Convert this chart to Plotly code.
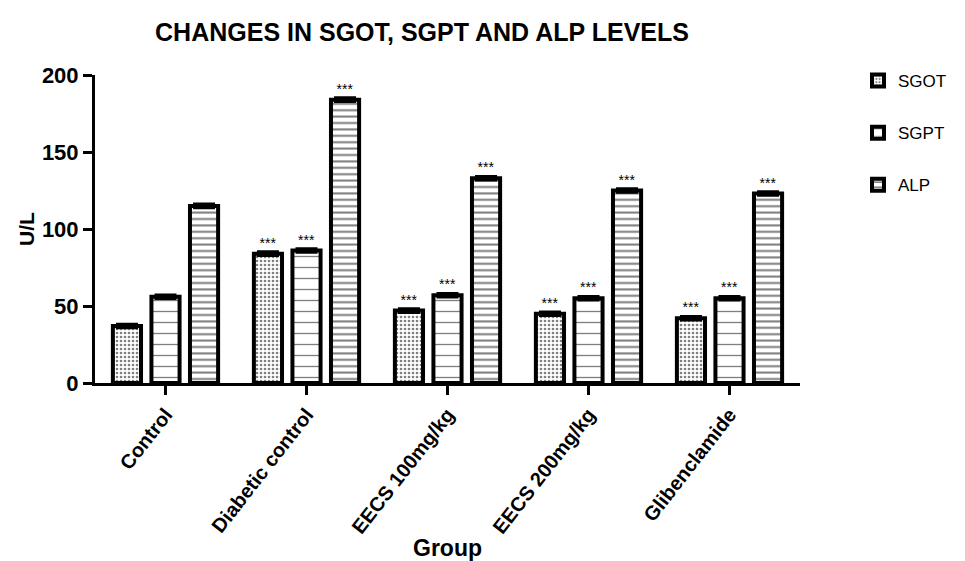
import plotly.graph_objects as go

groups = ["Control", "Diabetic control", "EECS 100mg/kg", "EECS 200mg/kg", "Glibenclamide"]
sgot = [37, 84, 47, 45, 42]
sgpt = [56, 86, 57, 55, 55]
alp = [115, 184, 133, 125, 123]
sgot_err = [1, 1, 1, 1, 1]
sgpt_err = [1, 1, 1, 1, 1]
alp_err = [1, 1, 1, 1, 1]
sgot_sig = ["", "***", "***", "***", "***"]
sgpt_sig = ["", "***", "***", "***", "***"]
alp_sig = ["", "***", "***", "***", "***"]
y_ticks = [0, 50, 100, 150, 200]

FONT = "Liberation Sans, Arial, sans-serif"

series = [
    ("SGOT", sgot, sgot_err, sgot_sig, dict(shape=".", size=4, solidity=0.35)),
    ("SGPT", sgpt, sgpt_err, sgpt_sig, dict(shape="-", size=11, solidity=0.12)),
    ("ALP", alp, alp_err, alp_sig, dict(shape="-", size=6.4, solidity=0.32)),
]

fig = go.Figure()
for name, vals, err, sig, pat in series:
    fig.add_trace(go.Bar(
        name=name, x=groups, y=vals,
        legendgroup=name,
        marker=dict(color="white", line=dict(color="black", width=4),
                    pattern=dict(fgcolor="black", bgcolor="white", **pat)),
        error_y=dict(type="data", array=err, visible=True, color="black",
                     thickness=3.5, width=11),
        text=sig,
        textposition="outside",
        textfont=dict(family=FONT, size=14, color="black"),
        cliponaxis=False,
    ))

fig.update_layout(
    width=965, height=561,
    paper_bgcolor="white", plot_bgcolor="white",
    margin=dict(l=95, r=165, t=75, b=178, autoexpand=False),
    barmode="group", bargap=0.18, bargroupgap=0.27,
    title=dict(text="CHANGES IN SGOT, SGPT AND ALP LEVELS",
               font=dict(family=FONT, size=25, color="black", weight="bold"),
               x=422/965, xanchor="center", y=1 - 32/561, yanchor="middle"),
    font=dict(family=FONT, color="black"),
    legend=dict(x=858/965, xref="container", y=1 - 63/561, yref="container",
                xanchor="left", yanchor="top",
                font=dict(family=FONT, size=17, color="black"),
                tracegroupgap=27, bgcolor="rgba(0,0,0,0)"),
    showlegend=True,
)

fig.update_xaxes(
    range=[-0.5, 4.5], showline=True, linecolor="black", linewidth=3,
    ticks="outside", ticklen=9, tickwidth=3, tickcolor="black",
    tickangle=-52, tickfont=dict(family=FONT, size=20, color="black", weight="bold"),
    title=dict(text="Group", font=dict(family=FONT, size=23, color="black", weight="bold"),
               standoff=3),
    showgrid=False, zeroline=False, automargin=False,
)
fig.update_yaxes(
    range=[0, 200], tickvals=y_ticks, showline=True, linecolor="black", linewidth=3,
    ticks="outside", ticklen=9, tickwidth=3, tickcolor="black",
    tickfont=dict(family=FONT, size=22, color="black", weight="bold"),
    title=dict(text="U/L", font=dict(family=FONT, size=21, color="black", weight="bold"),
               standoff=2),
    showgrid=False, zeroline=False, automargin=False,
)

fig.write_html("out.html", config={"displayModeBar": False},
               post_script="document.body.style.margin='0';document.body.style.overflow='hidden';")
